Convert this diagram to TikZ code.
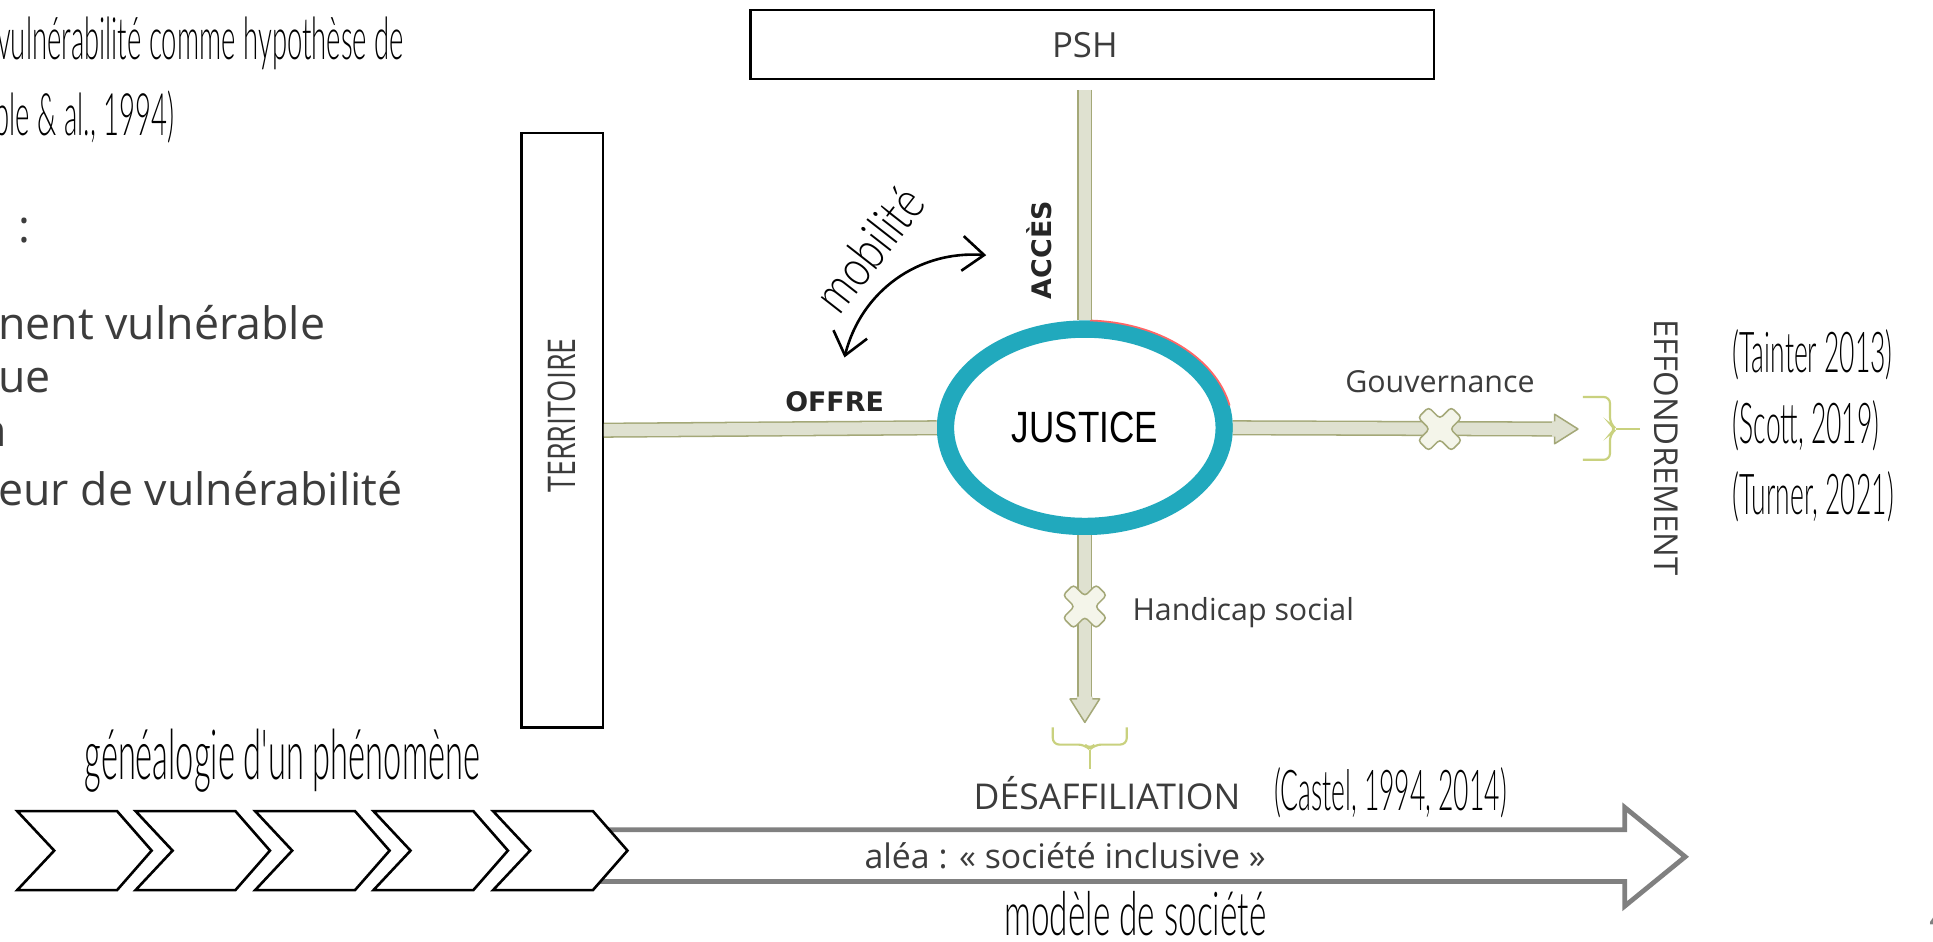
\documentclass[tikz,border=0pt]{standalone}
\usepackage{fontspec}
\setmainfont{Open Sans}
\newfontfamily\thinfont[FakeStretch=0.47]{Lato Light}
\newfontfamily\thinmid[FakeStretch=0.55]{Lato Light}
\newfontfamily\thinwide[FakeStretch=0.8]{Lato Light}
\newfontfamily\narrowfont[FakeStretch=0.75]{Open Sans}
\newfontfamily\boldfont{DejaVu Sans}
\newfontfamily\justicefont[FakeStretch=0.8]{Liberation Sans}
\usetikzlibrary{arrows.meta,positioning,shapes.geometric}

\definecolor{barfill}{HTML}{DFE1D0}
\definecolor{barline}{HTML}{A4A878}
\definecolor{crossfill}{HTML}{F4F5EA}
\definecolor{bracecol}{HTML}{C9D17E}
\definecolor{ringcol}{HTML}{21A9BD}
\definecolor{txtgray}{HTML}{3C3C3C}
\definecolor{arrowgray}{HTML}{808080}

\tikzset{
  box/.style={draw=black, line width=0.5pt, fill=white, inner sep=0pt},
  bar/.style={draw=barline, line width=0.35pt, double=barfill, double distance=2.8pt},
  bracket/.style={draw=bracecol, line width=0.5pt, rounded corners=1.5pt},
  chevron/.style={draw=black, line width=0.6pt, fill=white, line join=miter},
  bigarrow/.style={draw=arrowgray, line width=1.1pt, fill=white},
  thinlbl/.style={inner sep=0pt, font=\thinfont\fontsize{13.5}{15}\selectfont},
  cite/.style={inner sep=0pt, font=\thinfont\fontsize{13}{15}\selectfont},
  graylbl/.style={inner sep=0pt, text=txtgray, font=\fontsize{10.3}{12}\selectfont},
  capslbl/.style={inner sep=0pt, text=txtgray, font=\fontsize{8}{10}\selectfont},
  smalllbl/.style={inner sep=0pt, text=txtgray, font=\fontsize{7}{9}\selectfont},
  boldlbl/.style={inner sep=0pt, text=black!85, font=\boldfont\bfseries\fontsize{6.2}{8}\selectfont},
  xmark/.pic={
    \draw[draw=barline, fill=crossfill, line width=0.35pt, rounded corners=0.8pt, rotate=45]
      (-6,19) -- (6,19) -- (6,6) -- (19,6) -- (19,-6) -- (6,-6) -- (6,-19)
      -- (-6,-19) -- (-6,-6) -- (-19,-6) -- (-19,6) -- (-6,6) -- cycle;
  },
  barhead/.pic={
    \fill[barfill] (-19,-6.6) -- (-19,-12) -- (0,0) -- (-19,12) -- (-19,6.6) -- (-21,6.6) -- (-21,-6.6) -- cycle;
    \draw[barline, line width=0.35pt, line join=round]
      (-19,-6.2) -- (-19,-12) -- (0,0) -- (-19,12) -- (-19,6.2);
  }
}

\begin{document}
\begin{tikzpicture}[x=0.01cm, y=-0.01cm]
  \useasboundingbox[fill=white] (0,0) rectangle (1568,764);

  % left column, cut at the page edge
  \node[thinlbl, anchor=base west] (hyp) at (-3,48) {vulnérabilité comme hypothèse de};
  \node[thinlbl, anchor=base west] (ref1) at (-5,110) {ble \& al., 1994)};
  \node[graylbl, anchor=base west] (colon) at (14,197) {:};
  \node[graylbl, anchor=base west] (line1) at (-2,275) {nent vulnérable};
  \node[graylbl, anchor=base west] (line2) at (-2,318) {ue};
  \node[graylbl, anchor=base east] (line3) at (6,362) {n};
  \node[graylbl, anchor=base west] (line4) at (-2,410) {eur de vulnérabilité};

  % boxes and centre
  \node[box, minimum width=5.54cm, minimum height=0.56cm] (psh) at (886,36) {};
  \node[capslbl] (pshtxt) at (880,37) {PSH};
  \node[box, minimum width=0.66cm, minimum height=4.82cm] (terr) at (456,349) {};
  \node[capslbl, font=\narrowfont\fontsize{8.8}{10}\selectfont, rotate=90] (terrtxt) at (456,337) {TERRITOIRE};
  \node[ellipse, draw=ringcol, line width=4pt, fill=white, inner sep=0pt,
        minimum width=2.26cm, minimum height=1.6cm] (justice) at (880,347)
        {\justicefont\fontsize{10.1}{12}\selectfont JUSTICE};
  \draw[red!60, line width=0.4pt] (justice.center) ++(88:1.2cm and 0.87cm)
        arc[start angle=88, end angle=12, x radius=1.2cm, y radius=0.87cm];

  % bars
  \coordinate (govhead) at (1261,348);
  \coordinate (govtip) at (1280,348);
  \coordinate (deshead) at (880,567);
  \coordinate (destip) at (880,586);
  \draw[bar, shorten <=0.08cm] (justice.north |- psh.south) -- (justice.north);
  \draw[bar] (terr.east) -- (justice.west);
  \draw[bar] (justice.east) -- (govhead);
  \draw[bar] (justice.south) -- (deshead);
  \pic at (govtip) {barhead};
  \pic[rotate=-90] at (destip) {barhead};
  \pic at (1168,348) {xmark};
  \pic at (880,492) {xmark};

  \node[boldlbl] (offre) at (677,326) {OFFRE};
  \node[boldlbl, rotate=90] (acces) at (843,203) {ACCÈS};
  \node[smalllbl] (gouv) at (1168,310) {Gouvernance};
  \node[smalllbl, anchor=west] (handicap) at (918,497) {Handicap social};

  % mobilité
  \coordinate (mobA) at (800,207);
  \coordinate (mobB) at (685,290);
  \draw[line width=0.6pt, {Straight Barb[length=5pt,width=8pt]}-{Straight Barb[length=5pt,width=8pt]}]
    (mobA) to[bend right=40] (mobB);
  \node[inner sep=0pt, rotate=52, font=\thinwide\fontsize{12}{14}\selectfont] (mobtxt) at (705,202) {mobilité};

  % braces
  \draw[bracket] (1284,322) -- (1306,322) -- (1306,344) -- (1311,348) -- (1306,352) -- (1306,373) -- (1284,373);
  \draw[bracket] (1311,348) -- (1330,348);
  \draw[bracket] (854,590) -- (854,604) -- (880,604) -- (884,608) -- (888,604) -- (914,604) -- (914,590);
  \draw[bracket] (884,608) -- (884,624);

  \node[capslbl, font=\fontsize{7.6}{10}\selectfont, rotate=-90] (effond) at (1352,363) {EFFONDREMENT};
  \node[cite, anchor=west] (tainter) at (1405,288) {(Tainter 2013)};
  \node[cite, anchor=west] (scott) at (1405,345) {(Scott, 2019)};
  \node[cite, anchor=west] (turner) at (1405,403) {(Turner, 2021)};

  \node[capslbl, font=\fontsize{8.2}{9}\selectfont] (desaff) at (898,643) {DÉSAFFILIATION};
  \node[cite, right=0.26cm of desaff] (castel) {(Castel, 1994, 2014)};

  % bottom arrow
  \draw[bigarrow] (485,673) -- (1318,673) -- (1318,655) -- (1367,695)
    -- (1318,735) -- (1318,715) -- (485,715) -- cycle;
  \node[smalllbl, font=\fontsize{7.8}{9}\selectfont] (alea) at (864,694) {aléa : « société inclusive »};
  \node[thinlbl, font=\thinmid\fontsize{14}{16}\selectfont, anchor=base] (modele) at (921,759) {modèle de société};

  % chevrons
  \filldraw[chevron] (14,658) -- (95,658) -- (123,690) -- (95,722) -- (14,722) -- (44,690) -- cycle;
  \filldraw[chevron] (110,658) -- (191,658) -- (219,690) -- (191,722) -- (110,722) -- (140,690) -- cycle;
  \filldraw[chevron] (207,658) -- (288,658) -- (316,690) -- (288,722) -- (207,722) -- (237,690) -- cycle;
  \filldraw[chevron] (303,658) -- (384,658) -- (412,690) -- (384,722) -- (303,722) -- (333,690) -- cycle;
  \filldraw[chevron] (400,658) -- (481,658) -- (509,690) -- (481,722) -- (400,722) -- (430,690) -- cycle;
  \node[thinlbl, font=\thinfont\fontsize{16}{18}\selectfont, anchor=base] (genea) at (229,632) {généalogie d'un phénomène};

  \node[smalllbl, text=gray, font=\fontsize{8}{9}\selectfont] (pagenum) at (1573,745) {4};
\end{tikzpicture}
\end{document}
